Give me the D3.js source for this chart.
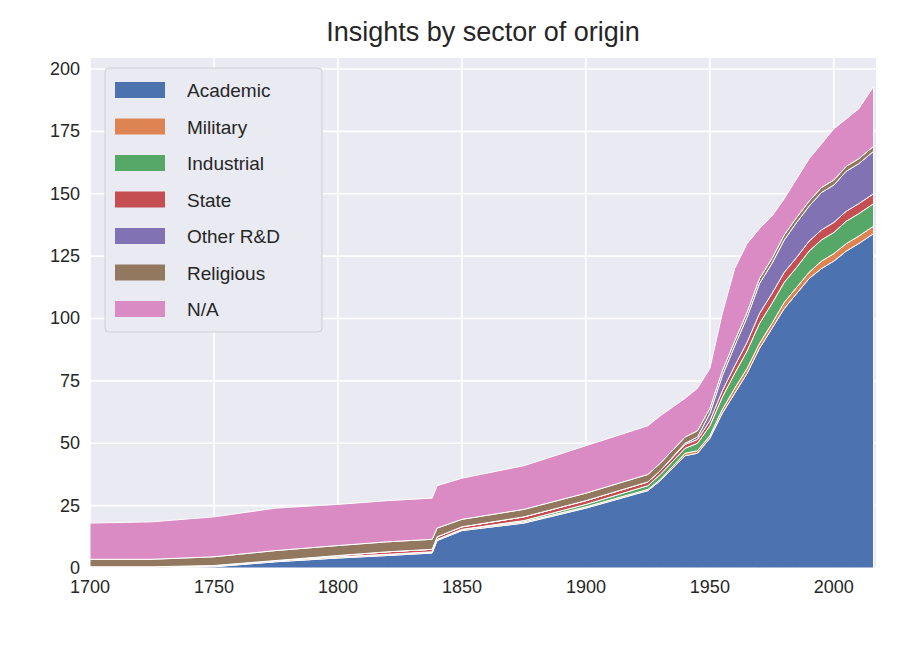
<!DOCTYPE html>
<html lang="en">
<head>
<meta charset="utf-8">
<script src="https://d3js.org/d3.v7.min.js"></script>
<style>body{margin:0;background:#fff;font-family:"Liberation Sans",Arial,sans-serif;}</style>
</head>
<body>
<script>
// data
var years = [1700,1725,1750,1775,1800,1820,1838,1840,1850,1875,1900,1925,1930,1940,1945,1950,1955,1960,1965,1970,1975,1980,1985,1990,1995,2000,2005,2010,2016];
var sectors = ["Academic","Military","Industrial","State","Other R&D","Religious","N/A"];
var academic = [0,0,0.5,2.5,4,5,6,11,15,18,24,31,35,45,46,52,62,70,78,88,96,104,110,116,120,123,127,130,134];
var military = [0.5,0.5,0.5,0.5,0.5,0.5,0.5,0.5,0.5,0.5,0.5,0.5,0.5,1,1,1,1.5,2,2,2,2,2.5,2.5,2.5,3,3,3,3,3];
var industrial = [0,0,0,0,0,0,0,0,0,0.5,1,1.5,2,2,3,4,5,6,7,8,8,8,8,8.5,8.5,8.5,9,9,9];
var state = [0,0,0,0,0.5,1,1,1,1,1.5,1.5,1.5,1.5,1.5,1.5,2,2.5,3,3.5,4,4,4,4,4,4,4,4,4,4];
var otherRD = [0,0,0,0,0,0,0,0,0,0,0,0,0,0.5,1,3,6,8,10,12,12,13,14,14,15,15,16,16,17];
var religious = [3,3,3.5,4,4,4,4,3.5,3,3,3,3,3,2.5,2.5,2,2,2,2,2,2,2,2,2,2,2,2,2,2];
var na = [14.5,15,16,17,16.5,16.5,16.5,17,16.5,17.5,19,19.5,19,15.5,17,16,23,29,27.5,20,17,14.5,15.5,17,17.5,20.5,19,20,24];
var xTicks = [1700,1750,1800,1850,1900,1950,2000];
var yTicks = [0,25,50,75,100,125,150,175,200];
var colors = ["#4C72B0","#DD8452","#55A868","#C44E52","#8172B3","#937860","#DA8BC3"];

var series = [academic, military, industrial, state, otherRD, religious, na];
var rows = years.map(function(y, i) {
  var r = {year: y};
  sectors.forEach(function(s, k) { r[s] = series[k][i]; });
  return r;
});

var W = 910, H = 648;
var pLeft = 90, pRight = 876, pTop = 58, pBottom = 568;

var svg = d3.select("body").append("svg").attr("width", W).attr("height", H);

var x = d3.scaleLinear().domain([1700, 2017]).range([pLeft, pRight]);
var y = d3.scaleLinear().domain([0, 204.4]).range([pBottom, pTop]);

svg.append("rect").attr("x", pLeft).attr("y", pTop)
  .attr("width", pRight - pLeft).attr("height", pBottom - pTop).attr("fill", "#EAEAF2");

// grid
svg.selectAll(".gx").data(xTicks).enter().append("line")
  .attr("x1", d => x(d)).attr("x2", d => x(d)).attr("y1", pTop).attr("y2", pBottom)
  .attr("stroke", "#fff").attr("stroke-width", 1.6);
svg.selectAll(".gy").data(yTicks).enter().append("line")
  .attr("x1", pLeft).attr("x2", pRight).attr("y1", d => y(d)).attr("y2", d => y(d))
  .attr("stroke", "#fff").attr("stroke-width", 1.6);

var stack = d3.stack().keys(sectors);
var area = d3.area().x(d => x(d.data.year)).y0(d => y(d[0])).y1(d => y(d[1]));

svg.append("g").selectAll("path").data(stack(rows)).enter().append("path")
  .attr("d", area)
  .attr("fill", (d, i) => colors[i])
  .attr("stroke", "#fff").attr("stroke-width", 1);

// tick labels
svg.selectAll(".tx").data(xTicks).enter().append("text")
  .attr("x", d => x(d)).attr("y", pBottom + 25).attr("text-anchor", "middle")
  .attr("font-size", 18).attr("fill", "#262626").text(d => d);
svg.selectAll(".ty").data(yTicks).enter().append("text")
  .attr("x", pLeft - 10).attr("y", d => y(d) + 6).attr("text-anchor", "end")
  .attr("font-size", 18).attr("fill", "#262626").text(d => d);

svg.append("text").attr("x", (pLeft + pRight) / 2).attr("y", 41)
  .attr("text-anchor", "middle").attr("font-size", 27).attr("fill", "#262626")
  .text("Insights by sector of origin");

// legend
var lg = svg.append("g").attr("transform", "translate(105,68)");
lg.append("rect").attr("width", 217).attr("height", 264).attr("rx", 4)
  .attr("fill", "#EAEAF2").attr("stroke", "#cfcfd6");
sectors.forEach(function(s, i) {
  var yy = 22 + i * 36.5;
  lg.append("rect").attr("x", 10).attr("y", yy - 8).attr("width", 50).attr("height", 16)
    .attr("fill", colors[i]);
  lg.append("text").attr("x", 82).attr("y", yy + 7).attr("font-size", 19)
    .attr("fill", "#262626").text(s);
});
</script>
</body>
</html>
